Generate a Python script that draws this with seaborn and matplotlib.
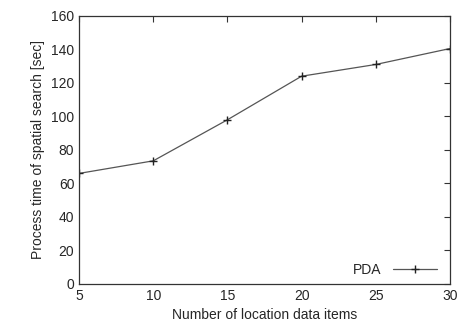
import matplotlib
matplotlib.use('Agg')
import matplotlib.pyplot as plt
import seaborn as sns
import pandas as pd

# valeurs
n_items = [5, 10, 15, 20, 25, 30]
pda_time = [66, 73.5, 98, 124, 131, 140.5]

sns.set_style('white')
plt.rcParams['font.family'] = ['Liberation Sans', 'DejaVu Sans']

df = pd.DataFrame({'n': n_items, 't': pda_time, 'serie': 'PDA'})

fig, ax = plt.subplots(figsize=(4.6, 3.31), dpi=100)
sns.lineplot(data=df, x='n', y='t', color='#555555', linewidth=0.9,
             marker='+', markersize=5.5, markeredgewidth=1.0, markeredgecolor='#222222',
             label='PDA', ax=ax)

ax.set_xlim(5, 30)
ax.set_ylim(0, 160)
ax.set_xticks(n_items)
ax.set_yticks(range(0, 161, 20))
ax.set_xlabel('Number of location data items', fontsize=10, labelpad=4)
ax.set_ylabel('Process time of spatial search [sec]', fontsize=10, labelpad=4)
ax.tick_params(direction='in', length=4, width=0.8, labelsize=10, top=True, right=True,
               color='#333333')
for s in ax.spines.values():
    s.set_color('#333333')
    s.set_linewidth(0.9)

# légende en bas à droite, texte avant le symbole (style gnuplot)
leg = ax.legend(loc='lower right', frameon=False, fontsize=10, markerfirst=False,
                handlelength=3.2, borderaxespad=0.1, bbox_to_anchor=(0.985, 0.0))

plt.subplots_adjust(left=0.172, right=0.978, top=0.952, bottom=0.142)
plt.savefig('out.png')
plt.close()
